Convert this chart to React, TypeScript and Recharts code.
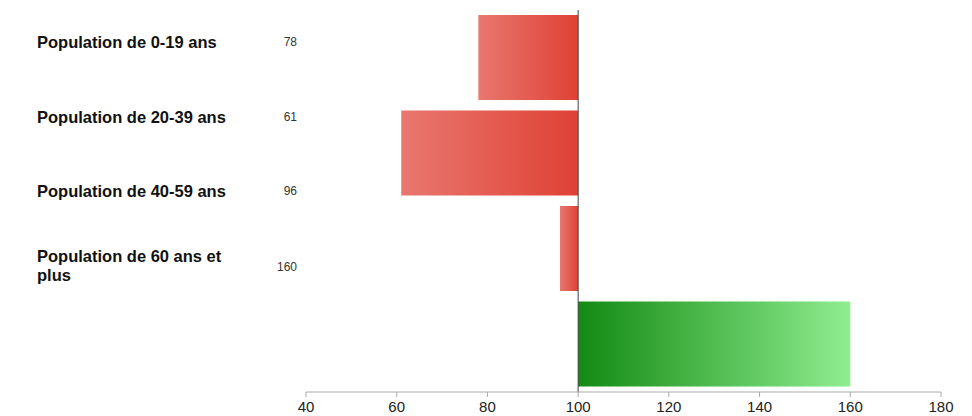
import React from 'react';
import { BarChart, Bar, XAxis, YAxis, Cell, ReferenceLine } from 'recharts';

const categories = [
  'Population de 0-19 ans',
  'Population de 20-39 ans',
  'Population de 40-59 ans',
  'Population de 60 ans et plus',
];
const values = [78, 61, 96, 160];
const baseline = 100;
const xTicks = [40, 60, 80, 100, 120, 140, 160, 180];

const data = categories.map((name, i) => ({
  name,
  value: values[i],
  range: [Math.min(baseline, values[i]), Math.max(baseline, values[i])],
}));

const FONT = '"Liberation Sans", Arial, sans-serif';

const App: React.FC = () => {
  return (
    <div style={{ position: 'absolute', left: 0, top: 0, width: 972, height: 416, background: '#fff', fontFamily: FONT, overflow: 'hidden' }}>
      {categories.map((name, i) => (
        <React.Fragment key={name}>
          <div
            style={{
              position: 'absolute',
              left: 37,
              top: 42 + i * 74.6,
              transform: 'translateY(-50%)',
              width: 200,
              fontSize: 16.5,
              lineHeight: '19px',
              fontWeight: 'bold',
              color: '#111',
            }}
          >
            {name}
          </div>
          <div
            style={{
              position: 'absolute',
              right: 972 - 297,
              top: 42 + i * 74.6 + (i === 3 ? 1 : 0),
              transform: 'translateY(-50%)',
              fontSize: 12,
              color: '#333',
            }}
          >
            {values[i]}
          </div>
        </React.Fragment>
      ))}
      <div style={{ position: 'absolute', left: 0, top: 0 }}>
        <BarChart
          width={972}
          height={416}
          data={data}
          layout="vertical"
          margin={{ top: 10, right: 31, left: 306, bottom: 0 }}
        >
          <defs>
            <linearGradient id="redGrad" x1="0" y1="0" x2="1" y2="0">
              <stop offset="0%" stopColor="#e9776f" />
              <stop offset="100%" stopColor="#df4134" />
            </linearGradient>
            <linearGradient id="greenGrad" x1="0" y1="0" x2="1" y2="0">
              <stop offset="0%" stopColor="#138a13" />
              <stop offset="100%" stopColor="#8eee8e" />
            </linearGradient>
          </defs>
          <XAxis
            type="number"
            domain={[40, 180]}
            ticks={xTicks}
            height={24}
            stroke="#aaa"
            tickSize={5}
            tickMargin={4}
            tick={{ fontSize: 15, fill: '#222', fontFamily: FONT }}
          />
          <YAxis type="category" dataKey="name" hide width={0} />
          <Bar dataKey="range" barSize={85} isAnimationActive={false}>
            {data.map((d) => (
              <Cell key={d.name} fill={d.value < baseline ? 'url(#redGrad)' : 'url(#greenGrad)'} />
            ))}
          </Bar>
          <ReferenceLine x={baseline} stroke="#444" strokeWidth={1} />
        </BarChart>
      </div>
    </div>
  );
};

export default App;
